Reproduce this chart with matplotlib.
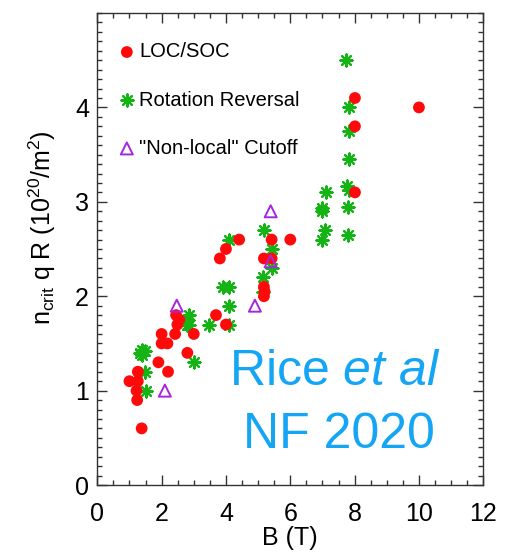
import matplotlib
matplotlib.use("Agg")
import matplotlib.pyplot as plt
from matplotlib.ticker import MultipleLocator

plt.rcParams['font.family'] = ['Liberation Sans', 'DejaVu Sans']
plt.rcParams['mathtext.fontset'] = 'custom'
plt.rcParams['mathtext.rm'] = 'Liberation Sans'
plt.rcParams['mathtext.it'] = 'Liberation Sans:italic'

# LOC/SOC (red circles)
loc_B = [1.38, 1.24, 1.22, 1.00, 1.26, 1.26, 1.90, 2.20, 2.00, 2.18, 2.00, 2.42,
         2.49, 2.45, 2.55, 3.00, 2.80, 3.69, 4.00, 3.81, 4.00, 4.41, 5.42, 6.00,
         5.18, 5.42, 5.18, 5.18, 5.20, 8.01, 10.0, 8.01, 8.01]
loc_n = [0.60, 0.90, 1.00, 1.10, 1.10, 1.20, 1.30, 1.20, 1.50, 1.50, 1.60, 1.60,
         1.70, 1.80, 1.75, 1.60, 1.40, 1.80, 1.70, 2.40, 2.50, 2.60, 2.60, 2.60,
         2.40, 2.40, 2.10, 2.00, 2.05, 4.10, 4.00, 3.80, 3.10]

# Rotation Reversal (green asterisks)
rr_B = [5.17, 4.10, 5.42, 5.42, 5.16, 5.16, 3.92, 4.10, 4.10, 4.10, 3.48, 2.86,
        2.82, 2.86, 2.80, 3.00, 1.33, 1.40, 1.48, 1.38, 1.48, 1.51, 7.08, 6.98,
        7.73, 7.84, 7.84, 7.84, 7.77, 7.84, 7.11, 6.98, 7.00, 7.80, 7.80]
rr_n = [2.70, 2.60, 2.50, 2.30, 2.20, 2.05, 2.10, 2.10, 1.90, 1.70, 1.70, 1.80,
        1.75, 1.69, 1.70, 1.30, 1.40, 1.43, 1.42, 1.38, 1.20, 1.00, 2.70, 2.60,
        4.50, 4.00, 3.75, 3.45, 3.17, 3.12, 3.10, 2.93, 2.90, 2.95, 2.65]

# "Non-local" Cutoff (purple open triangles)
nl_B = [2.47, 2.10, 4.90, 5.39, 5.39]
nl_n = [1.90, 1.00, 1.90, 2.37, 2.90]

RED = '#FF0A0A'
GREEN = '#16B316'
PURPLE = '#A626E0'
BLUE = '#14A6F5'
AXC = '#333333'

fig = plt.figure(figsize=(5.2, 5.54), dpi=100)
ax = fig.add_axes([0.1871, 0.1245, 0.7423, 0.852])

h_rr = ax.scatter(rr_B, rr_n, marker=(8, 2, 0), s=75, color=GREEN, linewidths=1.6,
                  zorder=3, label='Rotation Reversal')
h_loc = ax.scatter(loc_B, loc_n, marker='o', s=72, color=RED, edgecolors='none',
                   zorder=4, label='LOC/SOC')
h_nl = ax.scatter(nl_B, nl_n, marker='^', s=75, facecolors='none', edgecolors=PURPLE,
                  linewidths=1.4, zorder=5, label='"Non-local" Cutoff')

ax.set_xlim(0, 12)
ax.set_ylim(0, 5)
ax.xaxis.set_major_locator(MultipleLocator(2))
ax.xaxis.set_minor_locator(MultipleLocator(0.5))
ax.set_yticks([0, 1, 2, 3, 4])
ax.yaxis.set_minor_locator(MultipleLocator(0.1))
ax.tick_params(which='both', direction='in', top=True, right=True, color=AXC, width=1.0)
ax.tick_params(which='major', length=7, labelsize=18)
ax.tick_params(which='minor', length=3.5)
ax.tick_params(axis='x', which='major', pad=12)
ax.tick_params(axis='y', which='major', pad=6)
for s in ax.spines.values():
    s.set_color(AXC)
    s.set_linewidth(1.0)

ax.set_xlabel('B (T)', fontsize=18, labelpad=0)
ax.set_ylabel(r'n$_{\rm crit}$ q R (10$^{20}$/m$^2$)', fontsize=18)
ax.yaxis.set_label_coords(-0.102, 0.545)

leg = ax.legend(handles=[h_loc, h_rr, h_nl], loc='upper left',
                bbox_to_anchor=(0.04, 0.955), frameon=False, fontsize=14.5,
                handlelength=0.6, handletextpad=0.3, labelspacing=1.45,
                borderaxespad=0.0, scatterpoints=1)

ax.text(0.615, 0.212, r'Rice $et\ al$', transform=ax.transAxes, fontsize=36,
        color=BLUE, ha='center', va='baseline')
ax.text(0.625, 0.078, 'NF 2020', transform=ax.transAxes, fontsize=36,
        color=BLUE, ha='center', va='baseline')

fig.savefig('out.png', dpi=100)
